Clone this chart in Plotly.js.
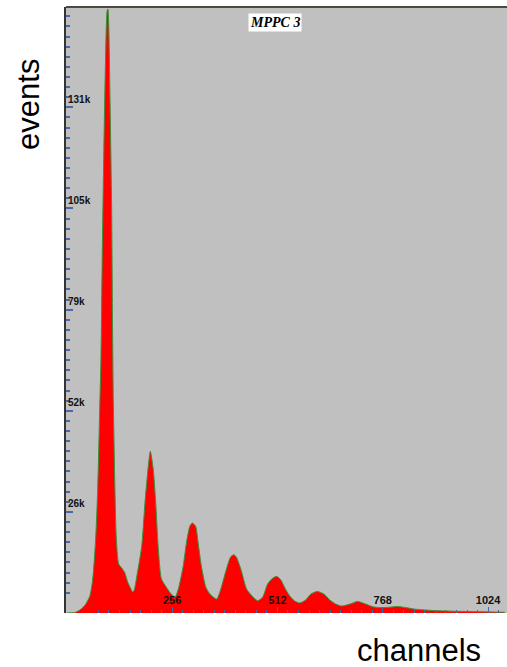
<!DOCTYPE html>
<html>
<head>
<meta charset="utf-8">
<script src="https://cdn.plot.ly/plotly-3.0.1.min.js"></script>
<style>
html,body{margin:0;padding:0;background:#fff;}
#chart{width:507px;height:667px;}
</style>
</head>
<body>
<div id="chart"></div>
<script>
// ADC channel (x) and event counts (y)
const channels = [0,10,19,32,44,56,63,70,75,80,83,86,90,94,98,100,102,105,109,111,113,117,120,126,134,141,148,156,160,164,169,182,190,198,203,210,216,222,230,242,250,263,271,283,291,299,305,313,319,327,338,348,364,372,388,398,406,412,423,437,453,464,476,488,498,510,520,530,542,554,566,581,593,609,625,639,654,668,688,707,727,744,761,785,805,824,846,870,895,919,943,968,992,1016,1040,1065];
const events = [0,50,100,800,2000,4400,8800,19000,32000,53000,66000,92000,120000,143000,156000,156500,152000,133000,105000,76000,55000,32000,20000,12700,11600,10400,8000,6200,5400,6000,8800,17300,28700,38000,41900,37300,28700,17300,8800,6700,5400,4100,6200,12200,18400,22500,23300,22500,18400,12200,6700,4900,3600,5400,11400,14500,15100,14500,11400,6200,4100,3200,4100,7500,8800,9500,8600,6500,4400,3100,2600,3400,4900,5600,4900,3400,2300,1800,2300,3000,2300,1600,1400,1500,1700,1400,1000,800,600,550,450,400,350,300,250,200];

const xTickVals = [256,512,768,1024];
const xTickText = ['256','512','768','1024'];
const yTickVals = [26200,52400,78600,104800,131000];
const yTickText = ['26k','52k','79k','105k','131k'];
const chartTitle = 'MPPC 3';
const xTitle = 'channels';
const yTitle = 'events';

const tickBlue = '#4a68a8';

const trace = {
  x: channels,
  y: events,
  type: 'scatter',
  mode: 'lines',
  fill: 'tozeroy',
  fillcolor: '#ff0000',
  line: {color: '#3f8f3a', width: 1, shape: 'spline', smoothing: 0.6},
  hoverinfo: 'skip'
};

const layout = {
  width: 507,
  height: 667,
  margin: {l: 66, r: 0, t: 7, b: 54},
  paper_bgcolor: '#ffffff',
  plot_bgcolor: '#c0c0c0',
  showlegend: false,
  xaxis: {
    range: [-2, 1070],
    showgrid: false,
    zeroline: false,
    showline: false,
    ticks: 'inside',
    ticklen: 6,
    tickwidth: 1,
    tickcolor: tickBlue,
    tickvals: xTickVals,
    ticktext: xTickText,
    ticklabelposition: 'inside',
    tickfont: {family: 'Liberation Sans, Arial, sans-serif', size: 11, color: '#111', weight: 'bold'},
    minor: {dtick: 25.6, tick0: 0, ticks: 'inside', ticklen: 3, tickcolor: tickBlue, showgrid: false}
  },
  yaxis: {
    range: [0, 157000],
    showgrid: false,
    zeroline: false,
    showline: true,
    linecolor: '#333333',
    linewidth: 2,
    ticks: 'inside',
    ticklen: 7,
    tickwidth: 2,
    tickcolor: tickBlue,
    tickvals: yTickVals,
    ticktext: yTickText,
    ticklabelposition: 'inside top',
    tickfont: {family: 'Liberation Sans, Arial, sans-serif', size: 10, color: '#111', weight: 'bold'},
    minor: {dtick: 2620, tick0: 0, ticks: 'inside', ticklen: 4, tickcolor: tickBlue, showgrid: false}
  },
  shapes: [
    {type: 'line', xref: 'paper', yref: 'paper', x0: 0, x1: 1, y0: 1, y1: 1,
     line: {color: '#4a4a40', width: 2}}
  ],
  annotations: [
    {text: '<b><i>' + chartTitle + '</i></b>', xref: 'paper', yref: 'paper',
     x: 0.474, y: 0.9736, xanchor: 'center', yanchor: 'middle', showarrow: false,
     bgcolor: '#ffffff', borderpad: 1,
     font: {family: 'Liberation Serif, Times New Roman, serif', size: 14, color: '#000'}},
    {text: yTitle, xref: 'paper', yref: 'paper', x: -0.084, y: 0.84,
     xanchor: 'center', yanchor: 'middle', textangle: -90, showarrow: false,
     font: {family: 'Liberation Sans, Arial, sans-serif', size: 31, color: '#000'}},
    {text: xTitle, xref: 'paper', yref: 'paper', x: 0.80, y: -0.062,
     xanchor: 'center', yanchor: 'middle', showarrow: false,
     font: {family: 'Liberation Sans, Arial, sans-serif', size: 31, color: '#000'}}
  ]
};

Plotly.newPlot('chart', [trace], layout, {displayModeBar: false, staticPlot: true});
</script>
</body>
</html>
